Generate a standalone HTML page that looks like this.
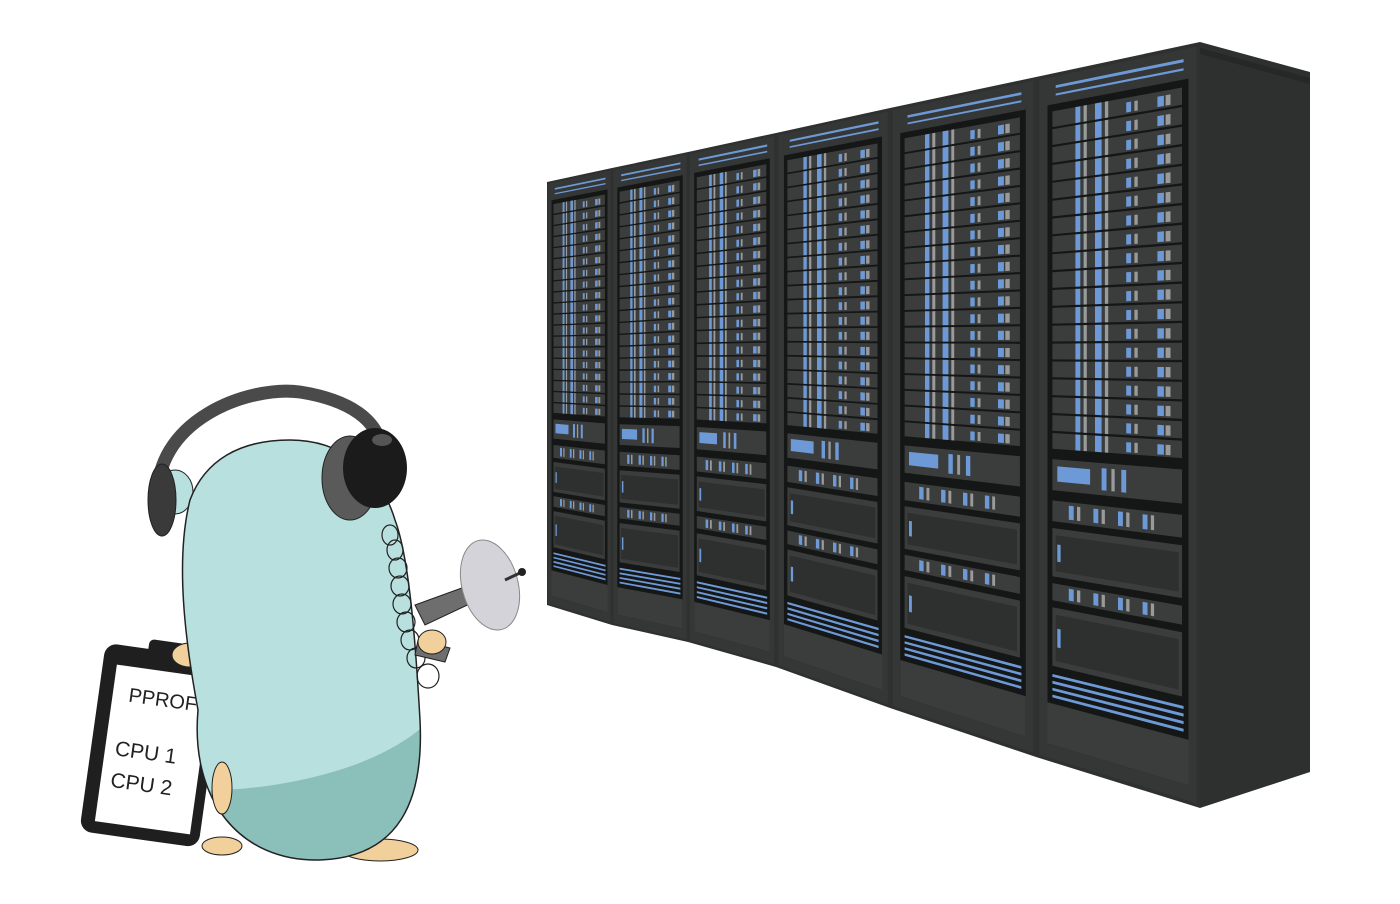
<!DOCTYPE html>
<html><head><meta charset="utf-8"><style>
html,body{margin:0;padding:0;background:#fff;width:1400px;height:904px;overflow:hidden}
svg{display:block}
</style></head><body>
<svg id="s" width="1400" height="904" viewBox="0 0 1400 904" xmlns="http://www.w3.org/2000/svg">
<g id="racks"></g>
<g transform="rotate(8 150 745)">
<rect x="92" y="650" width="120" height="190" rx="12" fill="#1f1f1f"/>
<rect x="106" y="670" width="96" height="158" fill="#fff"/>
<rect x="135" y="640" width="50" height="20" rx="5" fill="#1f1f1f"/>
<text x="122" y="705" font-family="Liberation Sans, sans-serif" font-size="20" fill="#222">PPROF</text>
<text x="116" y="760" font-family="Liberation Sans, sans-serif" font-size="21" fill="#222">CPU 1</text>
<text x="116" y="792" font-family="Liberation Sans, sans-serif" font-size="21" fill="#222">CPU 2</text>
</g>
<ellipse cx="380" cy="850" rx="38" ry="11" fill="#f1d09b" stroke="#222" stroke-width="1"/>
<ellipse cx="222" cy="846" rx="20" ry="9" fill="#f1d09b" stroke="#222" stroke-width="1"/>
<ellipse cx="190" cy="655" rx="18" ry="12" fill="#f1d09b" stroke="#222"/>
<defs><clipPath id="bc"><path d="M190 500 C175 560,185 640,198 710 C190 800,240 862,320 860 C400 857,424 800,420 720 C416 650,410 560,395 520 C380 470,340 440,290 440 C240 440,205 460,190 500 Z"/></clipPath></defs>
<ellipse cx="175" cy="492" rx="18" ry="22" fill="#b8e0df" stroke="#222"/>
<path d="M190 500 C175 560,185 640,198 710 C190 800,240 862,320 860 C400 857,424 800,420 720 C416 650,410 560,395 520 C380 470,340 440,290 440 C240 440,205 460,190 500 Z" fill="#b8e0df"/>
<path d="M170 790 C240 795,370 780,430 720 L440 880 L170 880 Z" fill="#8bbfba" clip-path="url(#bc)"/>
<path d="M190 500 C175 560,185 640,198 710 C190 800,240 862,320 860 C400 857,424 800,420 720 C416 650,410 560,395 520 C380 470,340 440,290 440 C240 440,205 460,190 500 Z" fill="none" stroke="#222" stroke-width="1.5"/>
<ellipse cx="222" cy="788" rx="10" ry="26" fill="#f1d09b" stroke="#222"/>
<path d="M158 505 C150 420,250 385,300 392 C350 400,378 420,382 450" fill="none" stroke="#4a4a4a" stroke-width="13"/>
<ellipse cx="162" cy="500" rx="14" ry="36" fill="#3a3a3a" stroke="#222"/>
<ellipse cx="350" cy="478" rx="28" ry="42" fill="#5a5a5a" stroke="#222"/>
<ellipse cx="375" cy="468" rx="32" ry="40" fill="#1b1b1b"/>
<ellipse cx="382" cy="440" rx="10" ry="6" fill="#555"/>
<g fill="none" stroke="#222" stroke-width="1.2">
<ellipse cx="390" cy="535" rx="8" ry="10"/><ellipse cx="395" cy="550" rx="8" ry="10"/><ellipse cx="398" cy="568" rx="9" ry="10"/><ellipse cx="400" cy="586" rx="9" ry="10"/><ellipse cx="402" cy="604" rx="9" ry="10"/><ellipse cx="406" cy="622" rx="9" ry="10"/><ellipse cx="410" cy="640" rx="9" ry="10"/><ellipse cx="416" cy="658" rx="9" ry="10"/><ellipse cx="428" cy="676" rx="11" ry="12"/>
</g>
<path d="M415 605 L470 585 L478 600 L425 625 Z" fill="#6e6e6e" stroke="#222"/>
<path d="M418 640 L450 648 L445 662 L415 655 Z" fill="#6e6e6e" stroke="#222"/>
<ellipse cx="432" cy="642" rx="14" ry="12" fill="#f1d09b" stroke="#222"/>
<ellipse cx="490" cy="585" rx="28" ry="46" transform="rotate(-15 490 585)" fill="#d5d3da" stroke="#888"/>
<line x1="505" y1="580" x2="522" y2="572" stroke="#333" stroke-width="3"/>
<circle cx="522" cy="572" r="4" fill="#222"/>
</svg>
<script>
var racks=[
[[547,182],[612,168],[612,625],[547,605]],
[[612,168],[688,152],[688,642],[612,625]],
[[688,152],[776,133],[776,667],[688,642]],
[[776,133],[890,108],[890,708],[776,667]],
[[890,108],[1036,77],[1036,757],[890,708]],
[[1036,77],[1200,42],[1200,808],[1036,757]]];
var g=document.getElementById('racks'),h='';
function P(r,u,v){var t=[r[0][0]+(r[1][0]-r[0][0])*u,r[0][1]+(r[1][1]-r[0][1])*u],b=[r[3][0]+(r[2][0]-r[3][0])*u,r[3][1]+(r[2][1]-r[3][1])*u];return (t[0]+(b[0]-t[0])*v).toFixed(1)+','+(t[1]+(b[1]-t[1])*v).toFixed(1);}
function Q(r,u0,v0,u1,v1,f){h+='<polygon points="'+P(r,u0,v0)+' '+P(r,u1,v0)+' '+P(r,u1,v1)+' '+P(r,u0,v1)+'" fill="'+f+'"/>';}
h+='<polygon points="1200,42 1310,72 1310,772 1200,808" fill="#2e302f"/>';
h+='<polygon points="1200,48 1310,78 1310,84 1200,54" fill="#262827"/>';
function strip(r,a,b){[0.2,0.35,0.5,0.65].forEach(function(u){Q(r,u,a,u+0.03,b,'#6d9ad6');Q(r,u+0.05,a,u+0.07,b,'#9a9a9a');});}
racks.forEach(function(r){
Q(r,0,0,1,1,'#2f3130');
Q(r,0.02,0.005,0.98,0.995,'#353736');
Q(r,0.12,0.018,0.9,0.022,'#6d9ad6');Q(r,0.12,0.03,0.9,0.033,'#6d9ad6');
Q(r,0.07,0.045,0.93,0.975,'#151616');
var n=19,v0=0.055,v1=0.548,dh=(v1-v0)/n;
for(var i=0;i<n;i++){var a=v0+i*dh,b=a+dh*0.88;
Q(r,0.1,a,0.89,b,'#3b3d3c');
Q(r,0.24,a,0.27,b,'#6d9ad6');Q(r,0.29,a,0.31,b,'#9a9a9a');
Q(r,0.36,a,0.4,b,'#6d9ad6');Q(r,0.42,a,0.44,b,'#9a9a9a');
Q(r,0.55,a+dh*0.25,0.58,b-dh*0.1,'#6d9ad6');Q(r,0.6,a+dh*0.25,0.62,b-dh*0.1,'#9a9a9a');
Q(r,0.74,a+dh*0.25,0.78,b-dh*0.1,'#6d9ad6');Q(r,0.79,a+dh*0.25,0.82,b-dh*0.1,'#9a9a9a');}
Q(r,0.1,0.56,0.89,0.605,'#3b3d3c');Q(r,0.13,0.57,0.33,0.592,'#6d9ad6');
Q(r,0.4,0.567,0.43,0.598,'#6d9ad6');Q(r,0.46,0.567,0.48,0.598,'#9a9a9a');Q(r,0.52,0.567,0.55,0.598,'#6d9ad6');
Q(r,0.1,0.62,0.89,0.65,'#3b3d3c');strip(r,0.625,0.645);
Q(r,0.1,0.66,0.89,0.73,'#3b3d3c');Q(r,0.12,0.67,0.87,0.722,'#2e302f');Q(r,0.13,0.683,0.15,0.708,'#6d9ad6');
Q(r,0.1,0.74,0.89,0.765,'#3b3d3c');strip(r,0.744,0.761);
Q(r,0.1,0.775,0.89,0.86,'#3b3d3c');Q(r,0.12,0.785,0.87,0.852,'#2e302f');Q(r,0.13,0.805,0.15,0.832,'#6d9ad6');
[0.872,0.882,0.892,0.902].forEach(function(v){Q(r,0.1,v,0.9,v+0.004,'#6d9ad6');});
Q(r,0.07,0.915,0.93,0.975,'#3b3d3c');
});
g.innerHTML=h;
</script>
</body></html>
